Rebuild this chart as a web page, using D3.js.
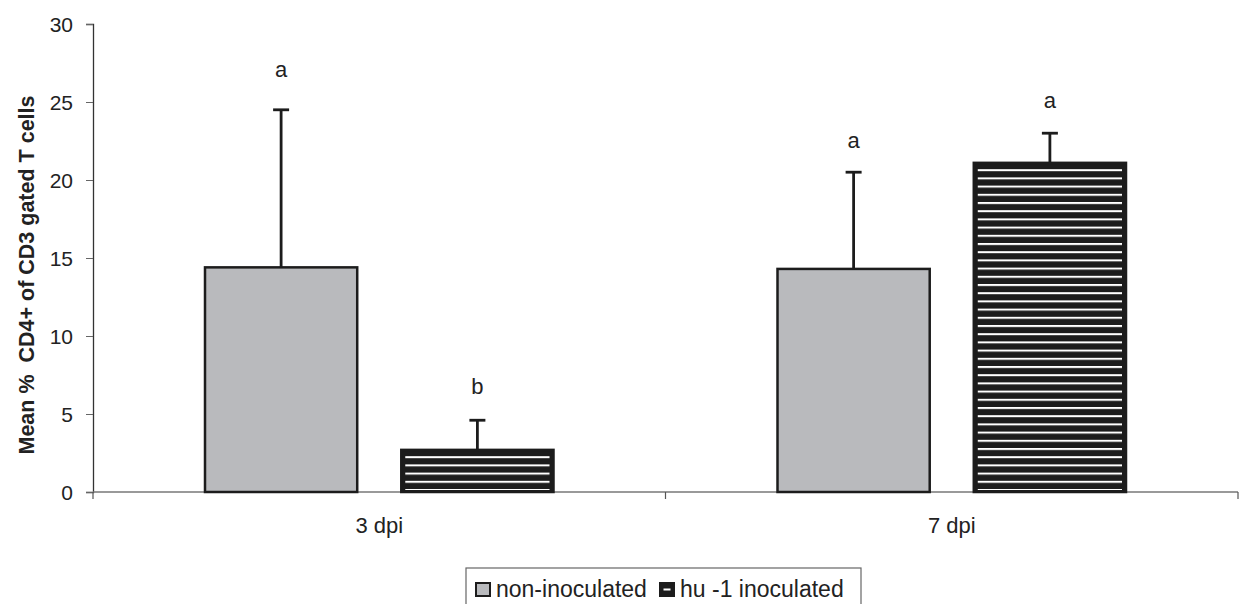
<!DOCTYPE html>
<html>
<head>
<meta charset="utf-8">
<script src="https://cdn.jsdelivr.net/npm/d3@7"></script>
<style>
  html, body { margin: 0; padding: 0; background: #fff; }
  svg { display: block; font-family: "Liberation Sans", Arial, sans-serif; }
</style>
</head>
<body>
<svg id="chart" width="1239" height="604"></svg>
<script>
// ---- data ----
const categories = ["3 dpi", "7 dpi"];
const seriesNames = ["non-inoculated", "hu -1 inoculated"];
const nonInoculated = [14.4, 14.3];
const huInoculated = [2.7, 21.1];
const nonInoculatedErr = [10.1, 6.2];   // upper error (SD) above mean
const huInoculatedErr = [1.9, 1.9];
const nonInoculatedLetters = ["a", "a"];
const huInoculatedLetters = ["b", "a"];
const nonInoculatedLetterY = [26.6, 22.05];
const huInoculatedLetterY = [6.28, 24.6];
const yTicks = [0, 5, 10, 15, 20, 25, 30];
const yTitle = "Mean %  CD4+ of CD3 gated T cells";

// ---- layout ----
const svg = d3.select("#chart");
const x0 = 93, x1 = 1238, yTop = 24, yBot = 492;
const dark = "#1c1c1c";
const grayFill = "#b9babd";

const x = d3.scaleBand().domain(categories).range([x0, x1]).paddingInner(0).paddingOuter(0);
const outer = 112;
const xs = d3.scaleBand().domain(seriesNames).range([outer, x.bandwidth() - outer]).paddingInner(0.2245).paddingOuter(0);
const y = d3.scaleLinear().domain([0, 30]).range([yBot, yTop]);

const rows = [];
categories.forEach((c, i) => {
  rows.push({cat: c, s: seriesNames[0], v: nonInoculated[i], e: nonInoculatedErr[i], l: nonInoculatedLetters[i], ly: nonInoculatedLetterY[i]});
  rows.push({cat: c, s: seriesNames[1], v: huInoculated[i], e: huInoculatedErr[i], l: huInoculatedLetters[i], ly: huInoculatedLetterY[i]});
});

// pattern for striped bars
const defs = svg.append("defs");
const pat = defs.append("pattern").attr("id", "stripes")
  .attr("patternUnits", "userSpaceOnUse").attr("width", 8).attr("height", 8.2)
  .attr("patternTransform", `translate(0,${yBot - 3})`);
pat.append("rect").attr("width", 8).attr("height", 8.2).attr("fill", dark);
pat.append("rect").attr("y", 0).attr("width", 8).attr("height", 2).attr("fill", "#fff");

// y axis
const yAxis = d3.axisLeft(y).tickValues(yTicks).tickSize(7).tickPadding(13).tickFormat(d3.format("d"));
const gy = svg.append("g").attr("transform", `translate(${x0},0)`).call(yAxis);
gy.select(".domain").attr("stroke", "#333").attr("stroke-width", 1.3);
gy.selectAll(".tick line").attr("stroke", "#666");
gy.selectAll(".tick text").attr("fill", "#222").style("font-size", "21px").attr("dy", "0.35em");

// x axis line & boundary ticks
const gx = svg.append("g").attr("transform", `translate(0,${yBot})`);
gx.append("line").attr("x1", x0).attr("x2", x1).attr("stroke", "#777").attr("stroke-width", 1.6);
const bounds = categories.map(c => x(c)).concat([x(categories[categories.length - 1]) + x.bandwidth()]);
gx.selectAll("line.bt").data(bounds).join("line").attr("class", "bt")
  .attr("x1", d => d).attr("x2", d => d).attr("y1", 0).attr("y2", 7)
  .attr("stroke", "#555").attr("stroke-width", 1.2);
gx.selectAll("text.cat").data(categories).join("text").attr("class", "cat")
  .attr("x", d => x(d) + x.bandwidth() / 2).attr("y", 41)
  .attr("text-anchor", "middle").attr("fill", "#222").style("font-size", "22px").text(d => d);

// bars
const bx = d => x(d.cat) + xs(d.s);
const bars = svg.append("g");
rows.forEach(d => {
  if (d.s === seriesNames[0]) {
    bars.append("rect").attr("x", bx(d)).attr("y", y(d.v)).attr("width", xs.bandwidth()).attr("height", yBot - y(d.v))
      .attr("fill", grayFill).attr("stroke", dark).attr("stroke-width", 2.5);
  } else {
    bars.append("rect").attr("x", bx(d)).attr("y", y(d.v)).attr("width", xs.bandwidth()).attr("height", yBot - y(d.v))
      .attr("fill", dark).attr("stroke", dark).attr("stroke-width", 2.5);
    bars.append("rect").attr("x", bx(d) + 4).attr("y", y(d.v) + 4).attr("width", xs.bandwidth() - 8).attr("height", Math.max(0, yBot - y(d.v) - 6))
      .attr("fill", "url(#stripes)");
  }
});

// error bars
const eg = svg.append("g").attr("stroke", dark).attr("stroke-width", 2.8);
rows.forEach(d => {
  const cx = bx(d) + xs.bandwidth() / 2;
  eg.append("line").attr("x1", cx).attr("x2", cx).attr("y1", y(d.v)).attr("y2", y(d.v + d.e));
  eg.append("line").attr("x1", cx - 8).attr("x2", cx + 8).attr("y1", y(d.v + d.e)).attr("y2", y(d.v + d.e));
});

// letters
svg.append("g").selectAll("text").data(rows).join("text")
  .attr("x", d => bx(d) + xs.bandwidth() / 2).attr("y", d => y(d.ly))
  .attr("text-anchor", "middle").attr("fill", "#222").style("font-size", "22px").text(d => d.l);

// y title
svg.append("text").attr("transform", `translate(34,${(yTop + yBot) / 2 + 17}) rotate(-90)`)
  .attr("text-anchor", "middle").attr("fill", "#222").style("font-size", "21.5px").style("font-weight", "bold")
  .attr("xml:space", "preserve").style("white-space", "pre").text(yTitle);

// legend
const lg = svg.append("g").attr("transform", "translate(466,568)");
lg.append("rect").attr("x", 0).attr("y", 0).attr("width", 395).attr("height", 44)
  .attr("fill", "#fff").attr("stroke", "#666").attr("stroke-width", 1.2);
const legendItems = [{name: seriesNames[0], fill: grayFill, xOff: 10}, {name: seriesNames[1], fill: dark, xOff: 194}];
legendItems.forEach((it, i) => {
  const g = lg.append("g").attr("transform", `translate(${it.xOff},15)`);
  g.append("rect").attr("width", 14).attr("height", 13).attr("fill", it.fill).attr("stroke", dark).attr("stroke-width", 2);
  if (i === 1) g.append("rect").attr("x", 3.5).attr("y", 5.5).attr("width", 7).attr("height", 2).attr("fill", "#fff");
  g.append("text").attr("x", 20).attr("y", 14).attr("fill", "#222").style("font-size", "23px").text(it.name);
});
</script>
</body>
</html>
